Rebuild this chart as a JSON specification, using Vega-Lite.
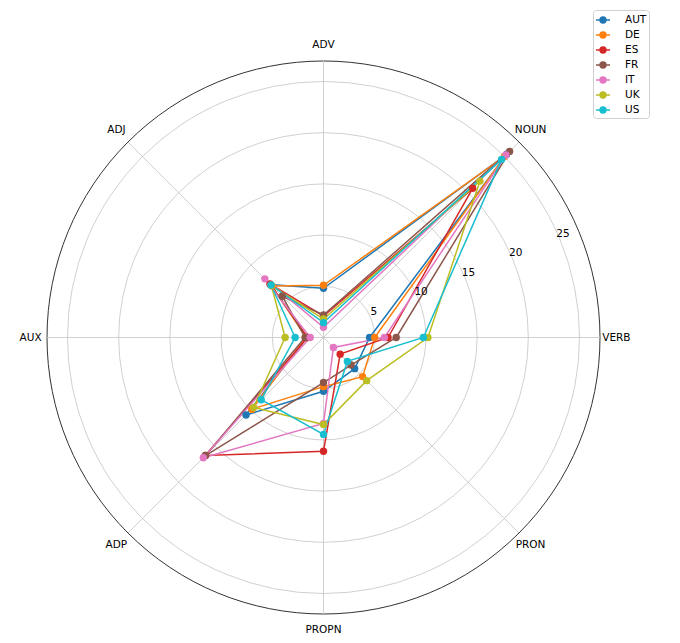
{
  "$schema": "https://vega.github.io/schema/vega-lite/v6.json",
  "width": 553,
  "height": 553,
  "autosize": {"type": "none"},
  "padding": {"left": 47, "top": 61, "right": 80, "bottom": 29},
  "config": {"view": {"stroke": null}, "font": "DejaVu Sans"},
  "datasets": {
    "pos": [
      {"cat": "VERB", "k": 0},
      {"cat": "NOUN", "k": 1},
      {"cat": "ADV", "k": 2},
      {"cat": "ADJ", "k": 3},
      {"cat": "AUX", "k": 4},
      {"cat": "ADP", "k": 5},
      {"cat": "PROPN", "k": 6},
      {"cat": "PRON", "k": 7}
    ],
    "rings": [{"r": 5}, {"r": 10}, {"r": 15}, {"r": 20}, {"r": 25}],
    "shares": [
      {"country": "AUT", "cat": "VERB", "value": 4.5},
      {"country": "AUT", "cat": "NOUN", "value": 25.3},
      {"country": "AUT", "cat": "ADV", "value": 4.8},
      {"country": "AUT", "cat": "ADJ", "value": 7.3},
      {"country": "AUT", "cat": "AUX", "value": 1.6},
      {"country": "AUT", "cat": "ADP", "value": 10.7},
      {"country": "AUT", "cat": "PROPN", "value": 5.25},
      {"country": "AUT", "cat": "PRON", "value": 4.3},
      {"country": "DE", "cat": "VERB", "value": 5.0},
      {"country": "DE", "cat": "NOUN", "value": 25.0},
      {"country": "DE", "cat": "ADV", "value": 5.1},
      {"country": "DE", "cat": "ADJ", "value": 7.1},
      {"country": "DE", "cat": "AUX", "value": 1.7},
      {"country": "DE", "cat": "ADP", "value": 9.9},
      {"country": "DE", "cat": "PROPN", "value": 4.8},
      {"country": "DE", "cat": "PRON", "value": 5.4},
      {"country": "ES", "cat": "VERB", "value": 6.3},
      {"country": "ES", "cat": "NOUN", "value": 20.6},
      {"country": "ES", "cat": "ADV", "value": 2.1},
      {"country": "ES", "cat": "ADJ", "value": 7.4},
      {"country": "ES", "cat": "AUX", "value": 1.55},
      {"country": "ES", "cat": "ADP", "value": 16.3},
      {"country": "ES", "cat": "PROPN", "value": 11.1},
      {"country": "ES", "cat": "PRON", "value": 2.3},
      {"country": "FR", "cat": "VERB", "value": 7.1},
      {"country": "FR", "cat": "NOUN", "value": 25.7},
      {"country": "FR", "cat": "ADV", "value": 2.2},
      {"country": "FR", "cat": "ADJ", "value": 5.7},
      {"country": "FR", "cat": "AUX", "value": 1.8},
      {"country": "FR", "cat": "ADP", "value": 16.3},
      {"country": "FR", "cat": "PROPN", "value": 4.4},
      {"country": "FR", "cat": "PRON", "value": 3.8},
      {"country": "IT", "cat": "VERB", "value": 5.95},
      {"country": "IT", "cat": "NOUN", "value": 25.2},
      {"country": "IT", "cat": "ADV", "value": 1.0},
      {"country": "IT", "cat": "ADJ", "value": 8.1},
      {"country": "IT", "cat": "AUX", "value": 1.3},
      {"country": "IT", "cat": "ADP", "value": 16.6},
      {"country": "IT", "cat": "PROPN", "value": 8.4},
      {"country": "IT", "cat": "PRON", "value": 1.37},
      {"country": "UK", "cat": "VERB", "value": 10.2},
      {"country": "UK", "cat": "NOUN", "value": 21.6},
      {"country": "UK", "cat": "ADV", "value": 1.8},
      {"country": "UK", "cat": "ADJ", "value": 7.2},
      {"country": "UK", "cat": "AUX", "value": 3.75},
      {"country": "UK", "cat": "ADP", "value": 9.65},
      {"country": "UK", "cat": "PROPN", "value": 8.5},
      {"country": "UK", "cat": "PRON", "value": 5.96},
      {"country": "US", "cat": "VERB", "value": 9.75},
      {"country": "US", "cat": "NOUN", "value": 24.6},
      {"country": "US", "cat": "ADV", "value": 1.45},
      {"country": "US", "cat": "ADJ", "value": 7.25},
      {"country": "US", "cat": "AUX", "value": 2.77},
      {"country": "US", "cat": "ADP", "value": 8.6},
      {"country": "US", "cat": "PROPN", "value": 9.46},
      {"country": "US", "cat": "PRON", "value": 3.3}
    ]
  },
  "layer": [
    {
      "data": {"values": [{"r": 5, "c": "g"}, {"r": 10, "c": "g"}, {"r": 15, "c": "g"}, {"r": 20, "c": "g"}, {"r": 25, "c": "g"}, {"r": 27, "c": "o"}]},
      "transform": [{"calculate": "0", "as": "o"}],
      "mark": {"type": "point", "filled": false, "shape": "circle", "opacity": 1},
      "encoding": {
        "x": {"field": "o", "type": "quantitative", "scale": {"domain": [-27, 27], "nice": false, "zero": false}, "axis": null},
        "y": {"field": "o", "type": "quantitative", "scale": {"domain": [-27, 27], "nice": false, "zero": false}, "axis": null},
        "size": {"field": "r", "type": "quantitative", "scale": {"type": "pow", "exponent": 2, "domain": [0, 27], "range": [0, 305809], "zero": true}, "legend": null},
        "stroke": {"field": "c", "type": "nominal", "scale": {"domain": ["g", "o"], "range": ["#c4c4c4", "#333333"]}, "legend": null},
        "strokeWidth": {"field": "c", "type": "nominal", "scale": {"domain": ["g", "o"], "range": [0.8, 1]}, "legend": null}
      }
    },
    {
      "data": {"name": "pos"},
      "transform": [
        {"calculate": "datum.k * PI / 4", "as": "a"},
        {"calculate": "0", "as": "o"},
        {"calculate": "27 * cos(datum.a)", "as": "ex"},
        {"calculate": "27 * sin(datum.a)", "as": "ey"}
      ],
      "mark": {"type": "rule", "stroke": "#c4c4c4", "strokeWidth": 0.8},
      "encoding": {
        "x": {"field": "o", "type": "quantitative"},
        "y": {"field": "o", "type": "quantitative"},
        "x2": {"field": "ex"},
        "y2": {"field": "ey"}
      }
    },
    {
      "data": {"name": "shares"},
      "transform": [
        {"lookup": "cat", "from": {"data": {"name": "pos"}, "key": "cat", "fields": ["k"]}},
        {"calculate": "datum.k * PI / 4", "as": "a"},
        {"calculate": "datum.value * cos(datum.a)", "as": "px"},
        {"calculate": "datum.value * sin(datum.a)", "as": "py"}
      ],
      "mark": {"type": "line", "interpolate": "linear-closed", "strokeWidth": 1.5},
      "encoding": {
        "x": {"field": "px", "type": "quantitative"},
        "y": {"field": "py", "type": "quantitative"},
        "order": {"field": "k", "type": "quantitative"},
        "color": {
          "field": "country",
          "type": "nominal",
          "scale": {
            "domain": ["AUT", "DE", "ES", "FR", "IT", "UK", "US"],
            "range": ["#1f77b4", "#ff7f0e", "#d62728", "#8c564b", "#e377c2", "#bcbd22", "#17becf"]
          },
          "legend": {
            "title": null,
            "orient": "none",
            "legendX": 546,
            "legendY": -51,
            "padding": 2,
            "strokeColor": "#d0d0d0",
            "fillColor": "#ffffff",
            "cornerRadius": 3,
            "symbolType": "M-1,0L1,0M-0.42,0A0.42,0.42,0,1,1,0.42,0A0.42,0.42,0,1,1,-0.42,0",
            "symbolSize": 196,
            "symbolStrokeWidth": 1.5,
            "rowPadding": 1,
            "labelOffset": 14,
            "labelFontSize": 10.5,
            "labelColor": "#000000",
            "encode": {
              "symbols": {
                "update": {
                  "fill": {"scale": "color", "field": "value"},
                  "stroke": {"scale": "color", "field": "value"},
                  "fillOpacity": {"value": 1},
                  "opacity": {"value": 1}
                }
              }
            }
          }
        }
      }
    },
    {
      "data": {"name": "shares"},
      "transform": [
        {"lookup": "cat", "from": {"data": {"name": "pos"}, "key": "cat", "fields": ["k"]}},
        {"calculate": "datum.k * PI / 4", "as": "a"},
        {"calculate": "datum.value * cos(datum.a)", "as": "px"},
        {"calculate": "datum.value * sin(datum.a)", "as": "py"}
      ],
      "mark": {"type": "circle", "size": 55, "opacity": 1},
      "encoding": {
        "x": {"field": "px", "type": "quantitative"},
        "y": {"field": "py", "type": "quantitative"},
        "color": {"field": "country", "type": "nominal"}
      }
    },
    {
      "data": {"name": "pos"},
      "transform": [
        {"calculate": "datum.k * PI / 4", "as": "a"},
        {"calculate": "28.6 * cos(datum.a)", "as": "lx"},
        {"calculate": "28.6 * sin(datum.a)", "as": "ly"}
      ],
      "mark": {"type": "text", "fontSize": 10.5, "align": "center", "baseline": "middle", "color": "#000000"},
      "encoding": {
        "x": {"field": "lx", "type": "quantitative"},
        "y": {"field": "ly", "type": "quantitative"},
        "text": {"field": "cat"}
      }
    },
    {
      "data": {"name": "rings"},
      "transform": [
        {"calculate": "datum.r * cos(PI / 8)", "as": "tx"},
        {"calculate": "datum.r * sin(PI / 8)", "as": "ty"}
      ],
      "mark": {"type": "text", "fontSize": 10.5, "align": "center", "baseline": "middle", "dx": 3, "dy": -6, "color": "#000000"},
      "encoding": {
        "x": {"field": "tx", "type": "quantitative"},
        "y": {"field": "ty", "type": "quantitative"},
        "text": {"field": "r"}
      }
    }
  ]
}
